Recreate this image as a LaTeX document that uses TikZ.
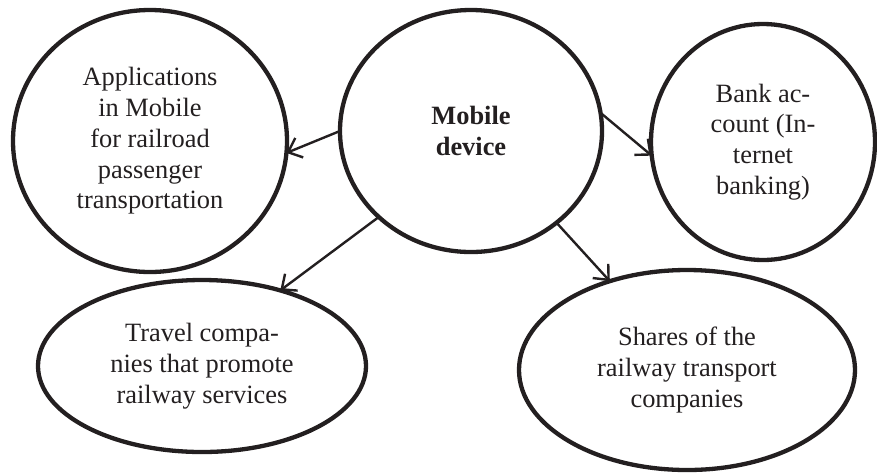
\documentclass[tikz,border=0pt]{standalone}
\usepackage{fontspec}
\setmainfont{Liberation Serif}
\usetikzlibrary{shapes.geometric,arrows.meta}
\definecolor{ink}{HTML}{231F20}
\begin{document}
\begin{tikzpicture}[x=1pt,y=-1pt,
  bubble/.style={ellipse, draw=ink, line width=4.3pt, inner sep=0pt, outer sep=0pt,
    align=center, text=ink, font=\fontsize{26.4}{30.7}\selectfont},
  link/.style={draw=ink, line width=2.4pt,
    -{Straight Barb[length=12pt,width=21pt,line width=2.4pt]}}]
\useasboundingbox (0,0) rectangle (877,472);
% outer bubbles
\node[bubble, minimum width=274pt, minimum height=262pt] (app) at (150,141)
  {Applications\\in Mobile\\for railroad\\passenger\\transportation};
\node[bubble, minimum width=262pt, minimum height=242pt] (mob) at (471,131)
  {\textbf{Mobile}\\\textbf{device}};
\node[bubble, minimum width=224pt, minimum height=236pt] (bank) at (763,142)
  {Bank ac-\\count (In-\\ternet\\banking)};
\node[bubble, minimum width=328pt, minimum height=172pt] (travel) at (202,366)
  {Travel compa-\\nies that promote\\railway services};
\node[bubble, minimum width=336pt, minimum height=200pt] (shares) at (687,370)
  {Shares of the\\railway transport\\companies};
% connectors from the device
\draw[link] (mob.180) -- (app.-5);
\draw[link] (mob.8) -- (bank.187);
\draw[link] (mob.223) -- (travel.44);
\draw[link] (mob.313) -- (shares.131);
\end{tikzpicture}
\end{document}
